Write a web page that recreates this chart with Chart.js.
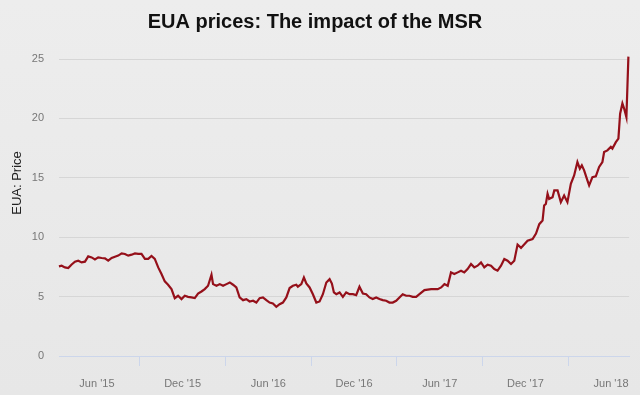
<!DOCTYPE html>
<html>
<head>
<meta charset="utf-8">
<script src="https://cdn.jsdelivr.net/npm/chart.js@4"></script>
<style>
  html, body { margin: 0; padding: 0; }
  body { width: 640px; height: 395px; background: linear-gradient(180deg, #ededed 0%, #e7e7e7 100%); }
  #wrap { width: 640px; height: 395px; }
</style>
</head>
<body>
<div id="wrap"><canvas id="euaChart"></canvas></div>
<script>
// months since Jan 2015 (0 = start of Jan '15)
const months = [
  2.34, 2.53, 2.76, 2.99, 3.23, 3.46, 3.69, 3.93, 4.16, 4.39, 4.63, 4.86, 5.09, 5.33, 5.56, 5.79,
  6.03, 6.26, 6.49, 6.73, 6.96, 7.19, 7.43, 7.66, 7.89, 8.12, 8.36, 8.59, 8.82, 9.05, 9.29, 9.52,
  9.75, 9.98, 10.22, 10.45, 10.68, 10.92, 11.15, 11.38, 11.62, 11.85, 12.08, 12.32, 12.55, 12.78,
  13.02, 13.13, 13.37, 13.6, 13.83, 14.07, 14.3, 14.53, 14.76, 14.99, 15.23, 15.46, 15.69, 15.93,
  16.16, 16.39, 16.62, 16.86, 17.09, 17.32, 17.56, 17.79, 18.02, 18.26, 18.49, 18.72, 18.96, 19.07,
  19.31, 19.49, 19.66, 19.89, 20.12, 20.36, 20.59, 20.82, 21.06, 21.29, 21.45, 21.59, 21.76, 21.99,
  22.22, 22.45, 22.69, 22.92, 23.15, 23.38, 23.62, 23.85, 24.08, 24.31, 24.55, 24.78, 25.01, 25.25,
  25.48, 25.71, 25.95, 26.18, 26.41, 26.65, 26.88, 27.11, 27.35, 27.58, 27.93, 28.4, 28.86, 29.1,
  29.33, 29.56, 29.79, 30.02, 30.26, 30.49, 30.72, 30.95, 31.19, 31.42, 31.65, 31.89, 32.12, 32.35,
  32.59, 32.82, 33.05, 33.29, 33.52, 33.75, 33.99, 34.22, 34.45, 34.69, 35.15, 35.5, 35.74, 35.97,
  36.2, 36.31, 36.43, 36.55, 36.66, 36.9, 37.02, 37.25, 37.48, 37.71, 37.94, 38.18, 38.41, 38.64,
  38.81, 38.95, 39.11, 39.34, 39.46, 39.69, 39.93, 40.16, 40.39, 40.51, 40.74, 40.98, 41.09, 41.33,
  41.51, 41.63, 41.79, 41.91, 42.07, 42.21,
];

const prices = [
  7.54, 7.6, 7.46, 7.4, 7.7, 7.94, 8.02, 7.88, 7.94, 8.39, 8.3, 8.13, 8.3, 8.25, 8.22, 8.02,
  8.25, 8.36, 8.45, 8.64, 8.59, 8.45, 8.53, 8.64, 8.59, 8.59, 8.17, 8.17, 8.42, 8.17, 7.46, 6.9,
  6.28, 6.0, 5.63, 4.87, 5.07, 4.79, 5.07, 4.98, 4.93, 4.87, 5.26, 5.43, 5.63, 5.91,
  6.84, 6.05, 5.91, 6.05, 5.91, 6.05, 6.19, 6.0, 5.77, 4.93, 4.7, 4.79, 4.59, 4.65,
  4.5, 4.87, 4.93, 4.7, 4.5, 4.42, 4.14, 4.36, 4.5, 4.93, 5.72, 5.91, 6.0, 5.83,
  6.05, 6.61, 6.1, 5.77, 5.2, 4.5, 4.59, 5.2, 6.19, 6.47, 6.1, 5.35, 5.2, 5.35,
  4.98, 5.35, 5.2, 5.2, 5.12, 5.83, 5.26, 5.2, 4.93, 4.79, 4.93, 4.79, 4.7, 4.65,
  4.5, 4.5, 4.65, 4.93, 5.2, 5.07, 5.07, 4.98, 4.98, 5.2, 5.55, 5.63, 5.63, 5.77,
  6.05, 5.91, 7.04, 6.9, 7.04, 7.18, 7.04, 7.32, 7.74, 7.46, 7.6, 7.88, 7.46, 7.69,
  7.6, 7.32, 7.18, 7.6, 8.17, 8.02, 7.74, 8.02, 9.38, 9.1, 9.7, 9.85, 10.3, 11.1,
  11.4, 12.67, 12.8, 13.66, 13.23, 13.37, 13.94, 13.94, 12.95, 13.51, 12.95, 14.5, 15.2, 16.33,
  15.77, 16.05, 15.63, 14.78, 14.36, 15.06, 15.12, 15.91, 16.33, 17.17, 17.31, 17.6, 17.46, 18.0,
  18.3, 20.4, 21.26, 20.83, 20.1, 25.2,
];

// label positions and the tick marks drawn between them
const labelMonths = [5, 11, 17, 23, 29, 35, 41];
const tickLabels = ["Jun '15", "Dec '15", "Jun '16", "Dec '16", "Jun '17", "Dec '17", "Jun '18"];
const markMonths = [8, 14, 20, 26, 32, 38];

const yTicks = [0, 5, 10, 15, 20, 25];

const points = months.map((m, i) => ({ x: m, y: prices[i] }));

const yTitlePlugin = {
  id: 'yTitle',
  afterDraw(chart) {
    const { ctx } = chart;
    ctx.save();
    ctx.translate(17, 183);
    ctx.rotate(-Math.PI / 2);
    ctx.font = '13px "Liberation Sans", Arial, sans-serif';
    ctx.fillStyle = '#222';
    ctx.textAlign = 'center';
    ctx.textBaseline = 'middle';
    ctx.fillText('EUA: Price', 0, 0);
    ctx.restore();
  },
};

const ctx = document.getElementById('euaChart').getContext('2d');

new Chart(ctx, {
  type: 'line',
  data: {
    datasets: [{
      label: 'EUA price',
      data: points,
      borderColor: '#95101a',
      borderWidth: 2.2,
      pointRadius: 0,
      tension: 0,
      clip: false,
    }],
  },
  options: {
    responsive: true,
    maintainAspectRatio: false,
    animation: false,
    layout: {
      padding: { left: 0, right: 10, top: 0, bottom: 5 },
    },
    plugins: {
      legend: { display: false },
      tooltip: { enabled: false },
      title: {
        display: true,
        text: 'EUA prices: The impact of the MSR',
        color: '#111',
        font: { family: '"Liberation Sans", Arial, sans-serif', size: 20, weight: 'bold', lineHeight: 1.2 },
        padding: { top: 10, bottom: 25 },
      },
    },
    scales: {
      x: {
        type: 'linear',
        min: 2.344,
        max: 42.258,
        afterFit: (scale) => { scale.height = 34; },
        afterBuildTicks: (scale) => {
          const all = labelMonths.concat(markMonths).sort((a, b) => a - b);
          scale.ticks = all.map((v) => ({ value: v }));
        },
        ticks: {
          autoSkip: false,
          maxRotation: 0,
          padding: 11,
          color: '#777',
          font: { family: '"Liberation Sans", Arial, sans-serif', size: 11 },
          callback: (value) => {
            const idx = labelMonths.indexOf(value);
            return idx >= 0 ? tickLabels[idx] : '';
          },
        },
        grid: {
          drawOnChartArea: false,
          tickLength: 10,
          color: (c) => (c.tick && markMonths.includes(c.tick.value) ? '#ccd6eb' : 'rgba(0,0,0,0)'),
        },
        border: { color: '#ccd6eb', width: 1 },
      },
      y: {
        min: 0,
        max: 25,
        afterFit: (scale) => { scale.width = 59; },
        afterBuildTicks: (scale) => {
          scale.ticks = yTicks.map((v) => ({ value: v }));
        },
        ticks: {
          padding: 15,
          color: '#777',
          font: { family: '"Liberation Sans", Arial, sans-serif', size: 11 },
        },
        grid: {
          color: '#d6d6d6',
          drawTicks: false,
        },
        border: { display: false },
      },
    },
  },
  plugins: [yTitlePlugin],
});
</script>
</body>
</html>
